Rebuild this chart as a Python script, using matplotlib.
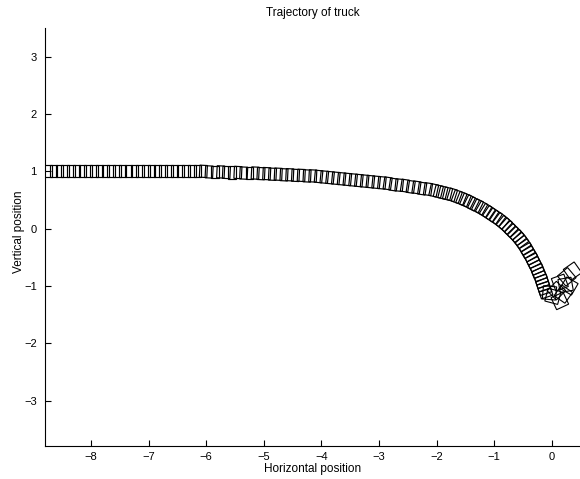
import numpy as np
import matplotlib
matplotlib.use('Agg')
from matplotlib import pyplot as plt
from matplotlib.patches import Rectangle

plt.rcParams['font.family'] = ['Liberation Sans', 'DejaVu Sans']

# truck positions along the path
path_x = [-8.75, -8.65, -8.55, -8.45, -8.35, -8.25, -8.15, -8.05, -7.95, -7.85,
          -7.75, -7.65, -7.55, -7.45, -7.35, -7.25, -7.15, -7.05, -6.95, -6.85,
          -6.75, -6.65, -6.55, -6.45, -6.35, -6.25, -6.15, -6.05, -5.95, -5.85,
          -5.75, -5.65, -5.55, -5.45, -5.35, -5.25, -5.15, -5.05, -4.95, -4.85,
          -4.75, -4.65, -4.55, -4.45, -4.35, -4.25, -4.15, -4.05, -3.95, -3.85,
          -3.75, -3.65, -3.55, -3.45, -3.35, -3.25, -3.15, -3.05, -2.95, -2.85,
          -2.75, -2.65, -2.55, -2.45, -2.35, -2.25, -2.15, -2.05,
          -1.97, -1.89, -1.81, -1.73, -1.65, -1.57, -1.50, -1.43, -1.36, -1.29,
          -1.22, -1.15, -1.09, -1.03, -0.97, -0.91, -0.85, -0.80, -0.75, -0.70,
          -0.65, -0.60, -0.56, -0.52, -0.48, -0.44, -0.41, -0.37, -0.34, -0.31,
          -0.28, -0.25, -0.23, -0.20, -0.18, -0.16, -0.14, -0.12, -0.10]
path_y = [1.00] * 28 + [
          0.99, 0.99, 0.99, 0.98, 0.98, 0.98, 0.97, 0.97, 0.97, 0.96,
          0.96, 0.95, 0.95, 0.94, 0.94, 0.93, 0.93, 0.92, 0.92, 0.91,
          0.90, 0.89, 0.88, 0.87, 0.86, 0.85, 0.84, 0.83, 0.82, 0.81,
          0.80, 0.79, 0.77, 0.76, 0.75, 0.73, 0.72, 0.70, 0.69, 0.67,
          0.65, 0.63, 0.61, 0.59, 0.56, 0.53, 0.50, 0.47, 0.43, 0.40,
          0.36, 0.32, 0.28, 0.24, 0.20, 0.16, 0.11, 0.07, 0.02, -0.03,
          -0.08, -0.13, -0.18, -0.23, -0.29, -0.35, -0.41, -0.47, -0.53, -0.59,
          -0.65, -0.71, -0.77, -0.83, -0.89, -0.95, -1.01, -1.07, -1.13]

# jumble of trucks near the dock
end_x = [0.36, 0.26, 0.30, 0.14, 0.08, 0.20, 0.02, 0.14, -0.04, 0.24]
end_y = [-0.74, -0.84, -1.00, -0.94, -1.08, -1.14, -1.18, -1.26, -1.12, -0.98]
end_ang = [35, 40, 60, 20, 45, 55, 75, 25, 85, 10]

truck_len = 0.13
truck_wid = 0.21

fig = plt.figure(figsize=(5.8, 4.79), dpi=100)
ax = fig.add_axes([45/580, 33/479, 535/580, 418/479])

px = np.array(path_x)
py = np.array(path_y)
heading = np.degrees(np.arctan2(np.gradient(py), np.gradient(px)))

for x, y, a in zip(px, py, heading):
    ax.add_patch(Rectangle((x - truck_len/2, y - truck_wid/2), truck_len, truck_wid,
                           angle=a, rotation_point='center',
                           fill=False, edgecolor='black', linewidth=0.85))
for x, y, a in zip(end_x, end_y, end_ang):
    ax.add_patch(Rectangle((x - 0.115, y - 0.115), 0.23, 0.23,
                           angle=a, rotation_point='center',
                           fill=False, edgecolor='black', linewidth=0.8))

ax.set_xlim(-8.8, 0.49)
ax.set_ylim(-3.79, 3.5)
ax.set_xticks([-8, -7, -6, -5, -4, -3, -2, -1, 0])
ax.set_yticks([-3, -2, -1, 0, 1, 2, 3])
ax.spines['top'].set_visible(False)
ax.spines['right'].set_visible(False)
for s in ['left', 'bottom']:
    ax.spines[s].set_linewidth(0.8)
ax.tick_params(axis='both', direction='in', length=4, width=0.8, labelsize=8)
ax.tick_params(axis='x', pad=4)
ax.tick_params(axis='y', pad=6)

fig.text(313/580, 1 - 13/479, 'Trajectory of truck', ha='center', va='center', fontsize=8.5)
fig.text(313/580, 1 - 469/479, 'Horizontal position', ha='center', va='center', fontsize=8.5)
fig.text(19/580, 1 - 232/479, 'Vertical position', ha='center', va='center',
         rotation=90, fontsize=8.5)

fig.savefig('out.png', dpi=100)
